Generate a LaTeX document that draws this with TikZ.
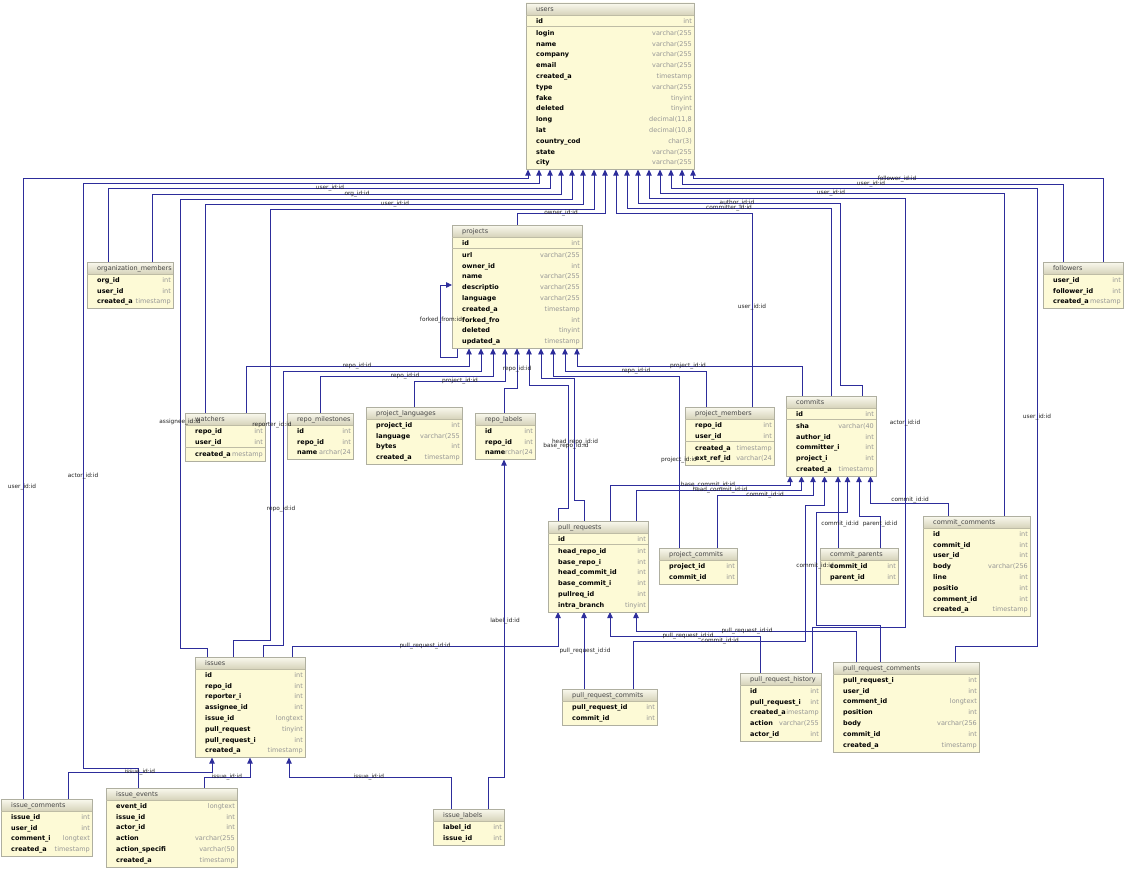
\documentclass[tikz,border=0pt]{standalone}
\usepackage{fontspec}
\setmainfont{DejaVu Sans}
\usetikzlibrary{arrows.meta,calc}
\definecolor{tblfill}{RGB}{253,250,214}
\definecolor{tblborder}{RGB}{175,175,160}
\definecolor{hdtop}{RGB}{250,249,238}
\definecolor{hdbot}{RGB}{214,211,186}
\definecolor{hdtext}{RGB}{70,70,70}
\definecolor{typetext}{RGB}{150,150,150}
\definecolor{sepc}{RGB}{190,188,165}
\definecolor{link}{RGB}{45,45,155}
\definecolor{labtext}{RGB}{35,35,35}
\tikzset{
  fk/.style={draw=link, line width=0.8pt, -{Triangle[width=5.5pt,length=6pt]}},
  fklab/.style={font=\fontsize{5.8}{6}\selectfont, text=labtext, inner sep=0pt},
  tbl/.style={draw=tblborder, fill=tblfill, line width=0.6pt, inner sep=0pt, outer sep=0pt, anchor=north west},
  ph/.style={inner sep=0pt, outer sep=0pt, anchor=north west},
  hdtxt/.style={font=\fontsize{6.5}{7}\selectfont, text=hdtext, inner sep=0pt, anchor=base west},
  rowname/.style={font=\bfseries\fontsize{6.5}{7}\selectfont, inner sep=0pt, anchor=base west},
  rowtype/.style={font=\fontsize{6.5}{7}\selectfont, text=typetext, inner sep=0pt, anchor=base east},
}
\newcommand\dbtable[8]{%
  \pgfmathsetmacro\tbh{25+10.8*(#8-1)+1.2*(#6>0)}%
  \node[tbl, minimum width=#4pt, minimum height=\tbh pt] (#1) at (#2,#3) {};%
  \shade[top color=hdtop, bottom color=hdbot] (#2,#3) rectangle (#2+#4,#3+12);%
  \draw[tblborder, line width=0.6pt] (#1.north west) rectangle (#1.south east);%
  \draw[sepc, line width=0.5pt] (#2,#3+12) -- (#2+#4,#3+12);%
  \node[hdtxt] (#1-h) at (#2+10,#3+8.4) {#5};%
  \ifnum#6>0 \draw[sepc, line width=0.6pt] (#2,#3+12.7+10.8*#6) -- (#2+#4,#3+12.7+10.8*#6);\fi%
  \foreach \nm/\ty [count=\k from 0] in {#7}{%
    \pgfmathsetmacro\ry{#3+18+10.8*\k+1.2*(\k>=#6)*(#6>0)+2.3}%
    \node[rowname] (#1-n\k) at (#2+10,\ry) {\nm};%
    \node[rowtype] (#1-t\k) at (#2+#4-2,\ry) {\ty};%
  }%
}
\begin{document}
\begin{tikzpicture}[x=1pt,y=-1pt]
\fill[white] (0,0) rectangle (1125,872);
\useasboundingbox (0,0) rectangle (1125,872);
% ---------- placeholders so connectors can use names ----------
\node[ph, minimum width=168pt, minimum height=166.6pt] (users) at (526,3) {};
\node[ph, minimum width=130pt, minimum height=123.4pt] (projects) at (452,225) {};
\node[ph, minimum width=86pt, minimum height=46.6pt] (om) at (87,262) {};
\node[ph, minimum width=80pt, minimum height=46.6pt] (fol) at (1043,262) {};
\node[ph, minimum width=80pt, minimum height=47.8pt] (wat) at (185,413) {};
\node[ph, minimum width=66pt, minimum height=46.6pt] (rm) at (287,413) {};
\node[ph, minimum width=96pt, minimum height=57.4pt] (pl) at (366,407) {};
\node[ph, minimum width=60pt, minimum height=46.6pt] (rl) at (475,413) {};
\node[ph, minimum width=89pt, minimum height=58.6pt] (pm) at (685,407) {};
\node[ph, minimum width=90pt, minimum height=80.2pt] (commits) at (786,396) {};
\node[ph, minimum width=107pt, minimum height=100.6pt] (cc) at (923,516) {};
\node[ph, minimum width=78pt, minimum height=35.8pt] (cp) at (820,548) {};
\node[ph, minimum width=100pt, minimum height=91pt] (pr) at (548,521) {};
\node[ph, minimum width=78pt, minimum height=35.8pt] (pcm) at (659,548) {};
\node[ph, minimum width=95pt, minimum height=35.8pt] (prcm) at (562,689) {};
\node[ph, minimum width=81pt, minimum height=68.2pt] (prh) at (740,673) {};
\node[ph, minimum width=146pt, minimum height=89.8pt] (prc) at (833,662) {};
\node[ph, minimum width=110pt, minimum height=100.6pt] (issues) at (195,657) {};
\node[ph, minimum width=91pt, minimum height=57.4pt] (ic) at (1,799) {};
\node[ph, minimum width=131pt, minimum height=79pt] (ie) at (106,788) {};
\node[ph, minimum width=71pt, minimum height=35.8pt] (il) at (433,809) {};
% ---------- connectors to users ----------
\draw[fk] (ic.north -| 23,0) |- (528,178) -- (users.south -| 528,0);
\draw[fk] (ie.north -| 138,0) |- (83,768) |- (539,183) -- (users.south -| 539,0);
\draw[fk] (om.north -| 108,0) |- (550,188) -- (users.south -| 550,0);
\draw[fk] (om.north -| 152,0) |- (561,194) -- (users.south -| 561,0);
\draw[fk] (issues.north -| 207,0) |- (180,648) |- (572,199) -- (users.south -| 572,0);
\draw[fk] (wat.north -| 205,0) |- (583,204) -- (users.south -| 583,0);
\draw[fk] (issues.north -| 233,0) |- (270,640) |- (594,209) -- (users.south -| 594,0);
\draw[fk] (projects.north -| 517,0) |- (605,213) -- (users.south -| 605,0);
\draw[fk] (pm.north -| 752,0) |- (616,213) -- (users.south -| 616,0);
\draw[fk] (commits.north -| 831,0) |- (627,208) -- (users.south -| 627,0);
\draw[fk] (commits.north -| 862,0) |- (840,385) |- (638,203) -- (users.south -| 638,0);
\draw[fk] (prh.north -| 812,0) |- (905,627) |- (649,198) -- (users.south -| 649,0);
\draw[fk] (cc.north -| 1004,0) |- (660,193) -- (users.south -| 660,0);
\draw[fk] (prc.north -| 955,0) |- (1037,646) |- (671,188) -- (users.south -| 671,0);
\draw[fk] (fol.north -| 1063,0) |- (682,184) -- (users.south -| 682,0);
\draw[fk] (fol.north -| 1103,0) |- (693,178) -- (users.south -| 693,0);
% ---------- connectors to projects ----------
\draw[fk] (wat.north -| 246,0) |- (469,366) -- (projects.south -| 469,0);
\draw[fk] (issues.north -| 263,0) |- (283,645) |- (481,371) -- (projects.south -| 481,0);
\draw[fk] (rm.north -| 320,0) |- (493,376) -- (projects.south -| 493,0);
\draw[fk] (pl.north -| 414,0) |- (505,381) -- (projects.south -| 505,0);
\draw[fk] (rl.north -| 504,0) |- (517,388) -- (projects.south -| 517,0);
\draw[fk] (pr.north -| 558,0) |- (568,508) |- (529,385) -- (projects.south -| 529,0);
\draw[fk] (pr.north -| 584,0) |- (574,500) |- (541,378) -- (projects.south -| 541,0);
\draw[fk] (pcm.north -| 679,0) |- (553,376) -- (projects.south -| 553,0);
\draw[fk] (pm.north -| 706,0) |- (565,371) -- (projects.south -| 565,0);
\draw[fk] (commits.north -| 802,0) |- (577,366) -- (projects.south -| 577,0);
\draw[fk] (projects.south -| 457,0) -- (457,357) -- (440,357) -- (440,285) -- (projects.west |- 0,285);
% ---------- connectors to commits ----------
\draw[fk] (pr.north -| 610,0) |- (790,485) -- (commits.south -| 790,0);
\draw[fk] (pr.north -| 636,0) |- (801.5,490) -- (commits.south -| 801.5,0);
\draw[fk] (pcm.north -| 717,0) |- (813,495) -- (commits.south -| 813,0);
\draw[fk] (prcm.north -| 633,0) |- (805,641) |- (824.5,505) -- (commits.south -| 824.5,0);
\draw[fk] (cp.north -| 838,0) -- (commits.south -| 838,0);
\draw[fk] (prc.north -| 880,0) |- (816,625) |- (847.5,512) -- (commits.south -| 847.5,0);
\draw[fk] (cp.north -| 880,0) |- (859,516) -- (commits.south -| 859,0);
\draw[fk] (cc.north -| 948,0) |- (870.5,503) -- (commits.south -| 870.5,0);
% ---------- connectors to pull_requests ----------
\draw[fk] (issues.north -| 292,0) |- (558,646) -- (pr.south -| 558,0);
\draw[fk] (prcm.north -| 584,0) -- (pr.south -| 584,0);
\draw[fk] (prh.north -| 760,0) |- (610,636) -- (pr.south -| 610,0);
\draw[fk] (prc.north -| 856,0) |- (636,631) -- (pr.south -| 636,0);
% ---------- connectors to issues / repo_labels ----------
\draw[fk] (ic.north -| 68,0) |- (212,772) -- (issues.south -| 212,0);
\draw[fk] (ie.north -| 204,0) |- (250,777) -- (issues.south -| 250,0);
\draw[fk] (il.north -| 451,0) |- (289,777) -- (issues.south -| 289,0);
\draw[fk] (il.north -| 488,0) |- (504,777) -- (rl.south -| 504,0);
% ---------- tables ----------
\dbtable{users}{526}{3}{168}{users}{1}{id/int, login/{varchar(255}, name/{varchar(255}, company/{varchar(255}, email/{varchar(255}, created\_a/timestamp, type/{varchar(255}, fake/tinyint, deleted/tinyint, long/{decimal(11,8}, lat/{decimal(10,8}, country\_cod/{char(3)}, state/{varchar(255}, city/{varchar(255}}{14}
\dbtable{projects}{452}{225}{130}{projects}{1}{id/int, url/{varchar(255}, owner\_id/int, name/{varchar(255}, descriptio/{varchar(255}, language/{varchar(255}, created\_a/timestamp, forked\_fro/int, deleted/tinyint, updated\_a/timestamp}{10}
\dbtable{om}{87}{262}{86}{organization\_members}{0}{org\_id/int, user\_id/int, created\_a/timestamp}{3}
\dbtable{fol}{1043}{262}{80}{followers}{0}{user\_id/int, follower\_id/int, created\_a/mestamp}{3}
\dbtable{wat}{185}{413}{80}{watchers}{2}{repo\_id/int, user\_id/int, created\_a/mestamp}{3}
\dbtable{rm}{287}{413}{66}{repo\_milestones}{0}{id/int, repo\_id/int, name/{archar(24}}{3}
\dbtable{pl}{366}{407}{96}{project\_languages}{0}{project\_id/int, language/{varchar(255}, bytes/int, created\_a/timestamp}{4}
\dbtable{rl}{475}{413}{60}{repo\_labels}{0}{id/int, repo\_id/int, name/{rchar(24}}{3}
\dbtable{pm}{685}{407}{89}{project\_members}{2}{repo\_id/int, user\_id/int, created\_a/timestamp, ext\_ref\_id/{varchar(24}}{4}
\dbtable{commits}{786}{396}{90}{commits}{1}{id/int, sha/{varchar(40}, author\_id/int, committer\_i/int, project\_i/int, created\_a/timestamp}{6}
\dbtable{cc}{923}{516}{107}{commit\_comments}{0}{id/int, commit\_id/int, user\_id/int, body/{varchar(256}, line/int, positio/int, comment\_id/int, created\_a/timestamp}{8}
\dbtable{cp}{820}{548}{78}{commit\_parents}{0}{commit\_id/int, parent\_id/int}{2}
\dbtable{pr}{548}{521}{100}{pull\_requests}{1}{id/int, head\_repo\_id/int, base\_repo\_i/int, head\_commit\_id/int, base\_commit\_i/int, pullreq\_id/int, intra\_branch/tinyint}{7}
\dbtable{pcm}{659}{548}{78}{project\_commits}{0}{project\_id/int, commit\_id/int}{2}
\dbtable{prcm}{562}{689}{95}{pull\_request\_commits}{0}{pull\_request\_id/int, commit\_id/int}{2}
\dbtable{prh}{740}{673}{81}{pull\_request\_history}{0}{id/int, pull\_request\_i/int, created\_a/imestamp, action/{varchar(255}, actor\_id/int}{5}
\dbtable{prc}{833}{662}{146}{pull\_request\_comments}{0}{pull\_request\_i/int, user\_id/int, comment\_id/longtext, position/int, body/{varchar(256}, commit\_id/int, created\_a/timestamp}{7}
\dbtable{issues}{195}{657}{110}{issues}{0}{id/int, repo\_id/int, reporter\_i/int, assignee\_id/int, issue\_id/longtext, pull\_request/tinyint, pull\_request\_i/int, created\_a/timestamp}{8}
\dbtable{ic}{1}{799}{91}{issue\_comments}{0}{issue\_id/int, user\_id/int, comment\_i/longtext, created\_a/timestamp}{4}
\dbtable{ie}{106}{788}{131}{issue\_events}{0}{event\_id/longtext, issue\_id/int, actor\_id/int, action/{varchar(255}, action\_specifi/{varchar(50}, created\_a/timestamp}{6}
\dbtable{il}{433}{809}{71}{issue\_labels}{0}{label\_id/int, issue\_id/int}{2}
% ---------- connector labels ----------
\node[fklab] (l1) at (330,188) {user\_id:id};
\node[fklab] (l2) at (357,194) {org\_id:id};
\node[fklab] (l3) at (395,204) {user\_id:id};
\node[fklab] (l4) at (561,213) {owner\_id:id};
\node[fklab] (l5) at (897,179) {follower\_id:id};
\node[fklab] (l6) at (871,184) {user\_id:id};
\node[fklab] (l7) at (831,193) {user\_id:id};
\node[fklab] (l8) at (737,203) {author\_id:id};
\node[fklab] (l9) at (729,208) {committer\_id:id};
\node[fklab] (l10) at (752,307) {user\_id:id};
\node[fklab] (l11) at (441,320) {forked\_from:id};
\node[fklab] (l12) at (357,366) {repo\_id:id};
\node[fklab] (l13) at (405,376) {repo\_id:id};
\node[fklab] (l14) at (460,381) {project\_id:id};
\node[fklab] (l15) at (517,369) {repo\_id:id};
\node[fklab] (l16) at (636,371) {repo\_id:id};
\node[fklab] (l17) at (688,366) {project\_id:id};
\node[fklab] (l18) at (180,422) {assignee\_id:id};
\node[fklab] (l19) at (272,425) {reporter\_id:id};
\node[fklab] (l20) at (575,442) {head\_repo\_id:id};
\node[fklab] (l21) at (566,446) {base\_repo\_id:id};
\node[fklab] (l22) at (679,460) {project\_id:id};
\node[fklab] (l23) at (905,423) {actor\_id:id};
\node[fklab] (l24) at (1037,417) {user\_id:id};
\node[fklab] (l25) at (83,476) {actor\_id:id};
\node[fklab] (l26) at (22,487) {user\_id:id};
\node[fklab] (l27) at (281,509) {repo\_id:id};
\node[fklab] (l28) at (708,485) {base\_commit\_id:id};
\node[fklab] (l29) at (720,490) {head\_commit\_id:id};
\node[fklab] (l30) at (765,495) {commit\_id:id};
\node[fklab] (l31) at (910,500) {commit\_id:id};
\node[fklab] (l32) at (840,524) {commit\_id:id};
\node[fklab] (l33) at (880,524) {parent\_id:id};
\node[fklab] (l34) at (815,566) {commit\_id:id};
\node[fklab] (l35) at (505,621) {label\_id:id};
\node[fklab] (l36) at (747,631) {pull\_request\_id:id};
\node[fklab] (l37) at (688,636) {pull\_request\_id:id};
\node[fklab] (l38) at (720,641) {commit\_id:id};
\node[fklab] (l39) at (425,646) {pull\_request\_id:id};
\node[fklab] (l40) at (585,651) {pull\_request\_id:id};
\node[fklab] (l41) at (140,772) {issue\_id:id};
\node[fklab] (l42) at (227,777) {issue\_id:id};
\node[fklab] (l43) at (369,777) {issue\_id:id};
\end{tikzpicture}
\end{document}
